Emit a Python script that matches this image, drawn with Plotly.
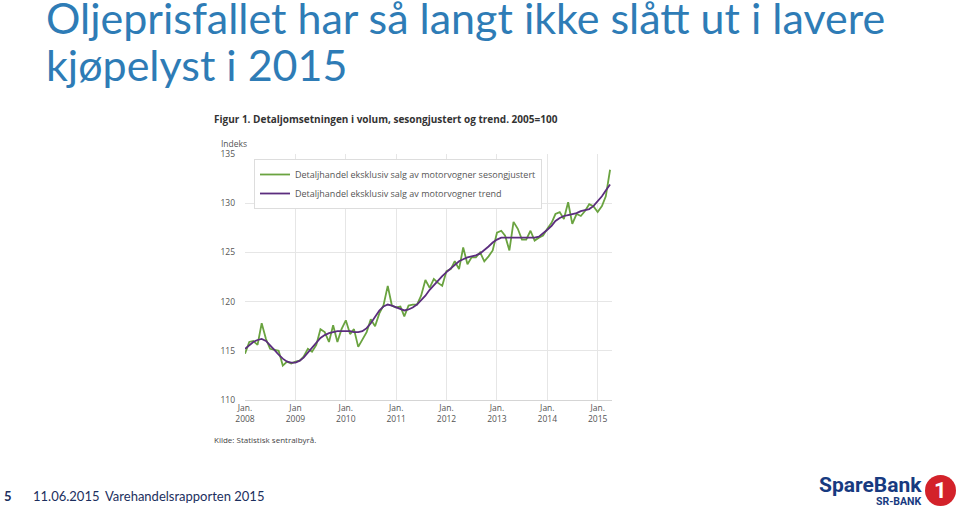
import pandas as pd
import plotly.graph_objects as go

# Monthly data, Jan 2008 - Apr 2015 (index 2005=100)
months = pd.date_range('2008-01-01', '2015-04-01', freq='MS')

sesongjustert = [
    114.7, 115.9, 116.0, 115.6, 117.8, 116.2, 115.2, 115.1, 115.0, 113.5, 113.9, 113.7,
    113.9, 114.0, 114.4, 115.2, 114.9, 115.6, 117.2, 116.9, 115.9, 117.6, 115.9, 117.2,
    118.1, 116.7, 117.2, 115.4, 116.1, 116.9, 118.2, 117.5, 118.8, 119.6, 121.6, 119.6,
    119.4, 119.5, 118.5, 119.6, 119.7, 119.7, 120.6, 122.2, 121.4, 122.3, 121.9, 121.6,
    123.1, 123.3, 124.1, 123.3, 125.5, 123.8, 124.5, 124.5, 125.0, 124.1, 124.6, 125.2,
    127.0, 127.2, 126.7, 125.2, 128.1, 127.4, 126.3, 126.3, 127.2, 126.2, 126.5, 126.7,
    127.4, 128.0, 128.9, 129.1, 128.4, 130.1, 127.9, 128.9, 128.7, 129.2, 129.9, 129.7,
    129.1, 129.7, 130.7, 133.4,
]

trend = [
    115.2, 115.6, 115.9, 116.1, 116.2, 116.0, 115.6, 115.1, 114.6, 114.2, 113.9, 113.8,
    113.8, 114.0, 114.3, 114.8, 115.3, 115.8, 116.3, 116.6, 116.8, 116.9, 117.0, 117.0,
    117.0, 117.0, 116.9, 116.9, 117.0, 117.3, 117.8, 118.5, 119.1, 119.5, 119.7, 119.6,
    119.4, 119.2, 119.1, 119.2, 119.4, 119.7, 120.1, 120.6, 121.2, 121.7, 122.1, 122.6,
    123.0, 123.4, 123.8, 124.1, 124.3, 124.5, 124.6, 124.7, 124.9, 125.2, 125.6, 126.0,
    126.3, 126.5, 126.5, 126.5, 126.5, 126.5, 126.5, 126.5, 126.5, 126.5, 126.6, 126.9,
    127.3, 127.7, 128.2, 128.5, 128.7, 128.8, 128.9, 129.0, 129.2, 129.3, 129.4, 129.7,
    130.2, 130.7, 131.3, 131.9,
]

tick_dates = ['2008-01-01', '2009-01-01', '2010-01-01', '2011-01-01',
              '2012-01-01', '2013-01-01', '2014-01-01', '2015-01-01']
tick_labels = ['Jan.<br>2008', 'Jan<br>2009', 'Jan.<br>2010', 'Jan.<br>2011',
               'Jan.<br>2012', 'Jan.<br>2013', 'Jan.<br>2014', 'Jan.<br>2015']

GREEN = '#6aa340'
PURPLE = '#5b2d7e'
GRAY = '#555555'
NAVY = '#1c2f5e'

W, H = 959, 509


def px(x):
    return x / W


def py(y):
    return 1 - y / H


fig = go.Figure()
fig.add_trace(go.Scatter(x=months, y=sesongjustert, mode='lines',
                         line=dict(color=GREEN, width=1.8),
                         name='Detaljhandel eksklusiv salg av motorvogner sesongjustert'))
fig.add_trace(go.Scatter(x=months, y=trend, mode='lines',
                         line=dict(color=PURPLE, width=1.8),
                         name='Detaljhandel eksklusiv salg av motorvogner trend'))

fig.update_layout(
    width=W, height=H,
    margin=dict(l=0, r=0, t=0, b=0, pad=0, autoexpand=False),
    paper_bgcolor='white', plot_bgcolor='white',
    font=dict(family='Open Sans', color=GRAY),
    xaxis=dict(domain=[px(245), px(612)], range=['2008-01-01', '2015-04-15'],
               tickvals=tick_dates, ticktext=tick_labels,
               tickfont=dict(size=8.5, color=GRAY),
               showgrid=True, gridcolor='#e6e6e6', gridwidth=1,
               showline=True, linecolor='#d5d5d5', zeroline=False, ticks=''),
    yaxis=dict(domain=[py(400), py(154)], range=[110, 135],
               tickvals=[110, 115, 120, 125, 130, 135],
               tickfont=dict(size=8.5, color=GRAY),
               showgrid=True, gridcolor='#e6e6e6', gridwidth=1,
               zeroline=False, showline=False, ticks='', ticklabelstandoff=9),
    legend=dict(x=px(254), y=py(159), xanchor='left', yanchor='top',
                bgcolor='white', bordercolor='#dddddd', borderwidth=1,
                itemwidth=30, font=dict(size=9, color=GRAY), tracegroupgap=1),
    showlegend=True,
)

# slide title
fig.add_annotation(text='Oljeprisfallet har så langt ikke slått ut i lavere',
                   xref='paper', yref='paper', x=px(44), y=py(45), xanchor='left', yanchor='bottom',
                   showarrow=False, font=dict(family='Lato', size=43, color='#2e7cb6'))
fig.add_annotation(text='kjøpelyst i 2015',
                   xref='paper', yref='paper', x=px(44), y=py(92), xanchor='left', yanchor='bottom',
                   showarrow=False, font=dict(family='Lato', size=43, color='#2e7cb6'))

# chart header, axis title and source
fig.add_annotation(text='<b>Figur 1. Detaljomsetningen i volum, sesongjustert og trend. 2005=100</b>',
                   xref='paper', yref='paper', x=px(212), y=py(110),
                   xanchor='left', yanchor='top', showarrow=False,
                   font=dict(family='Open Sans', size=10, color='#333333'))
fig.add_annotation(text='Indeks', xref='paper', yref='paper', x=px(219), y=py(136),
                   xanchor='left', yanchor='top', showarrow=False,
                   font=dict(size=8.5, color=GRAY))
fig.add_annotation(text='Kilde: Statistisk sentralbyrå.', xref='paper', yref='paper',
                   x=px(212), y=py(432), xanchor='left', yanchor='top',
                   showarrow=False, font=dict(size=8, color='#444444'))

# footer
fig.add_annotation(text='<b>5</b>', xref='paper', yref='paper', x=px(2), y=py(486),
                   xanchor='left', yanchor='top', showarrow=False,
                   font=dict(family='Lato', size=13, color=NAVY))
fig.add_annotation(text='11.06.2015', xref='paper', yref='paper', x=px(31), y=py(486),
                   xanchor='left', yanchor='top', showarrow=False,
                   font=dict(family='Lato', size=13, color=NAVY))
fig.add_annotation(text='Varehandelsrapporten 2015', xref='paper', yref='paper',
                   x=px(103), y=py(486), xanchor='left', yanchor='top',
                   showarrow=False, font=dict(family='Lato', size=13, color=NAVY))

# logo
fig.add_annotation(text='<b>SpareBank</b>', xref='paper', yref='paper', x=px(817), y=py(471),
                   xanchor='left', yanchor='top', showarrow=False,
                   font=dict(family='Roboto', size=21, color='#173a80'))
fig.add_annotation(text='<b>SR-BANK</b>', xref='paper', yref='paper', x=px(923), y=py(493),
                   xanchor='right', yanchor='top', showarrow=False,
                   font=dict(family='Roboto', size=10.5, color='#173a80'))
fig.add_shape(type='circle', xref='paper', yref='paper',
              x0=px(925), x1=px(956), y0=py(506), y1=py(475),
              fillcolor='#d3222a', line=dict(color='#d3222a', width=0))
fig.add_annotation(text='<b>1</b>', xref='paper', yref='paper', x=px(940.5), y=py(490.5),
                   xanchor='center', yanchor='middle', showarrow=False,
                   font=dict(family='Roboto', size=22, color='white'))

fig.write_html('out.html', config={'displayModeBar': False},
               post_script="document.body.style.margin='0';")
